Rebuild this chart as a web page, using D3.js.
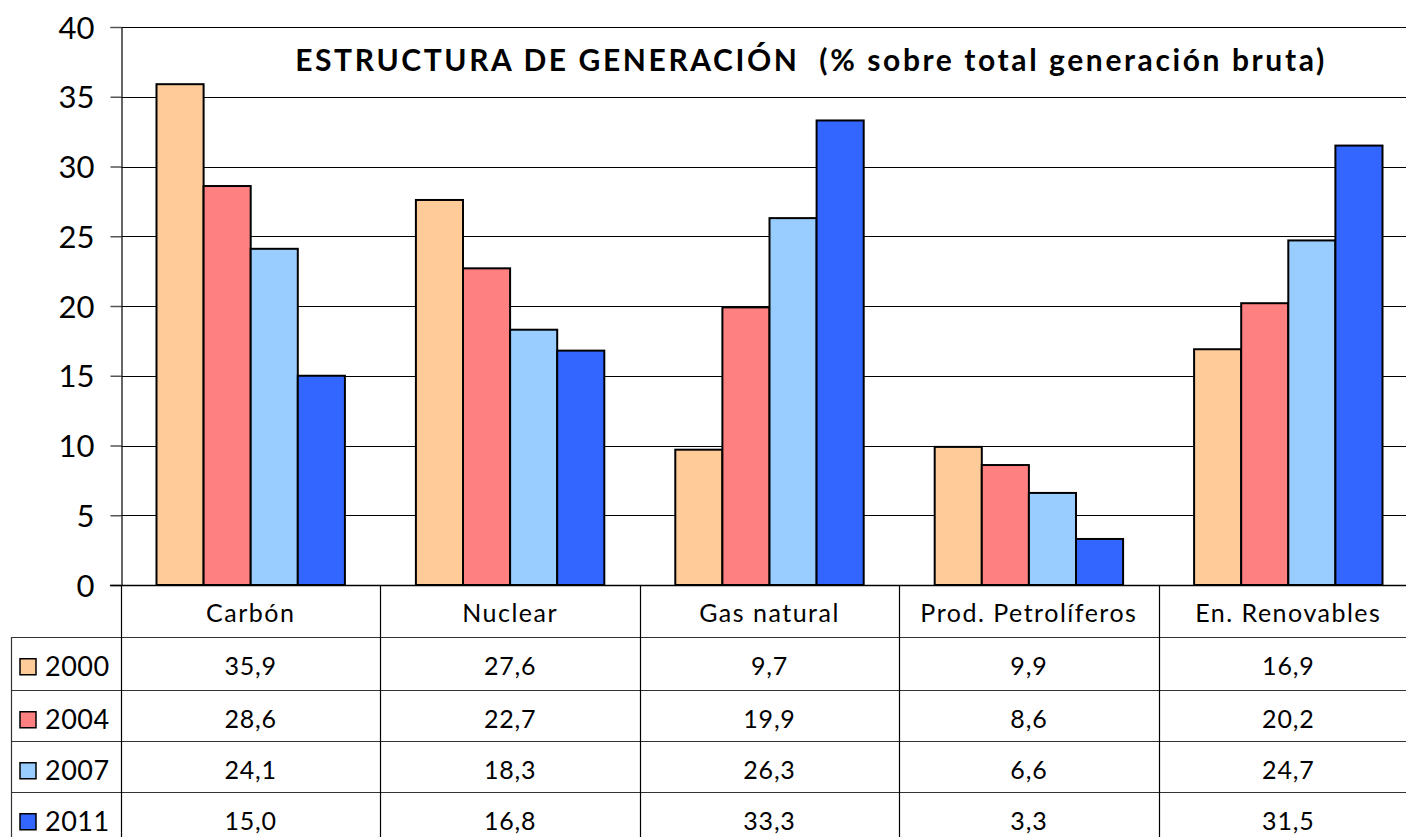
<!DOCTYPE html>
<html><head><meta charset="utf-8">
<script src="https://cdn.jsdelivr.net/npm/d3@7"></script>
<style>
html,body{margin:0;padding:0;background:#fff;overflow:hidden}
svg{display:block;font-family:"Lato","Noto Sans",sans-serif}
</style></head>
<body><svg id="c" width="1406" height="837"></svg>
<script>
const categories = ["Carbón","Nuclear","Gas natural","Prod. Petrolíferos","En. Renovables"];
const years = ["2000","2004","2007","2011"];
const v2000 = [35.9,27.6,9.7,9.9,16.9];
const v2004 = [28.6,22.7,19.9,8.6,20.2];
const v2007 = [24.1,18.3,26.3,6.6,24.7];
const v2011 = [15.0,16.8,33.3,3.3,31.5];
const yTicks = [0,5,10,15,20,25,30,35,40];
const colors = ["#FFCC99","#FF8080","#99CCFF","#3366FF"];
const title = "ESTRUCTURA DE GENERACIÓN  (% sobre total generación bruta)";

const series = [v2000,v2004,v2007,v2011];
const svg = d3.select("#c");
const L = 121, R = 1418, T = 27, B = 585;
const x = d3.scaleBand().domain(categories).range([L,R]).padding(0);
const xi = d3.scaleBand().domain(years).range([35.5, x.bandwidth()-35.5]).padding(0);
const y = d3.scaleLinear().domain([0,40]).range([B,T]);
const color = d3.scaleOrdinal().domain(years).range(colors);

// gridlines
svg.append("g").selectAll("line").data(yTicks.filter(d=>d>0)).join("line")
  .attr("x1",L).attr("x2",1406).attr("y1",d=>Math.round(y(d))+0.5).attr("y2",d=>Math.round(y(d))+0.5)
  .attr("stroke","#000").attr("stroke-width",1.2);

// y axis
const yAxis = d3.axisLeft(y).tickValues(yTicks).tickSize(11).tickPadding(16);
const gy = svg.append("g").attr("transform",`translate(${L+0.5},0)`).call(yAxis);
gy.select(".domain").attr("stroke","#000").attr("stroke-width",1.2);
gy.selectAll(".tick line").attr("stroke","#555").attr("stroke-width",1.5);
gy.selectAll(".tick text").attr("font-size",31).attr("fill","#000").attr("font-family","Lato").attr("dy","0.36em");

// bars
const groups = svg.append("g").selectAll("g").data(years).join("g");
groups.selectAll("rect").data((yr,i)=>categories.map((c,j)=>({c,yr,v:series[i][j]}))).join("rect")
  .attr("x",d=>x(d.c)+xi(d.yr))
  .attr("width",xi.bandwidth())
  .attr("y",d=>y(d.v))
  .attr("height",d=>B-y(d.v))
  .attr("fill",d=>color(d.yr))
  .attr("stroke","#000").attr("stroke-width",2);

// baseline
svg.append("line").attr("x1",110).attr("x2",1406).attr("y1",B+0.5).attr("y2",B+0.5).attr("stroke","#000").attr("stroke-width",1.5);

// title
svg.append("text").attr("x",811).attr("y",71).attr("text-anchor","middle")
  .attr("font-size",30).attr("font-weight","bold").attr("fill","#000").attr("letter-spacing","2.6px")
  .attr("xml:space","preserve").text(title);

// data table
const rowTops = [637, 690, 741, 792];
const rowY = d3.scaleOrdinal().domain(years).range(rowTops);
const rowH = 51.5;
const tbl = svg.append("g");
rowTops.forEach(yy=>{
  tbl.append("line").attr("x1",11).attr("x2",1406).attr("y1",yy+0.5).attr("y2",yy+0.5)
    .attr("stroke","#333").attr("stroke-width",1.2);
});
tbl.append("line").attr("x1",11.5).attr("x2",11.5).attr("y1",637).attr("y2",837).attr("stroke","#333").attr("stroke-width",1.2);
categories.forEach((c,j)=>{
  const xx = Math.round(x(c))+0.5;
  tbl.append("line").attr("x1",xx).attr("x2",xx).attr("y1",B).attr("y2",837).attr("stroke","#000").attr("stroke-width",1.2);
});
// category labels
tbl.selectAll("text.cat").data(categories).join("text").attr("class","cat")
  .attr("x",d=>x(d)+x.bandwidth()/2).attr("y",622).attr("text-anchor","middle")
  .attr("font-size",25).attr("fill","#000").attr("letter-spacing","1.5px").text(d=>d);
// legend + values
years.forEach((yr,i)=>{
  const cy = rowY(yr)+rowH/2;
  tbl.append("rect").attr("x",20).attr("y",cy-4).attr("width",16).attr("height",16)
    .attr("fill",color(yr)).attr("stroke","#000").attr("stroke-width",1.5);
  tbl.append("text").attr("x",45).attr("y",cy+13).attr("font-size",27).attr("fill","#000").attr("letter-spacing","0.5px").text(yr);
  tbl.selectAll(null).data(categories).join("text")
    .attr("x",d=>x(d)+x.bandwidth()/2).attr("y",cy+12).attr("text-anchor","middle")
    .attr("font-size",25).attr("fill","#000").attr("letter-spacing","0.8px")
    .text((d,j)=>d3.format(".1f")(series[i][j]).replace(".",","));
});
</script></body></html>
